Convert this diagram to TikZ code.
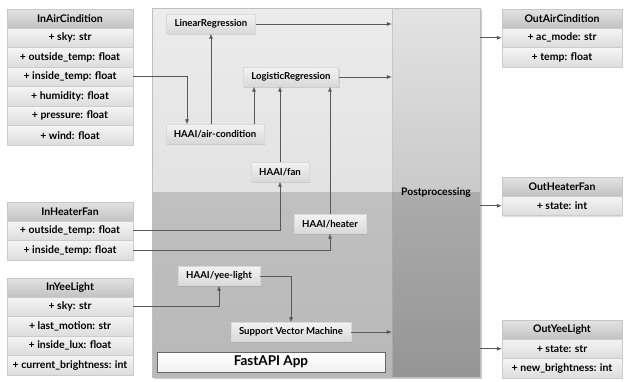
\documentclass[tikz,border=0pt]{standalone}
\usepackage{fontspec}
\setmainfont{Lato}
\usetikzlibrary{arrows.meta,shadows}

\begin{document}
\begin{tikzpicture}[x=1pt,y=-1pt,
    font=\fontsize{10.5}{12}\selectfont\bfseries,
    every node/.append style={inner sep=0pt},
    shade/.style={drop shadow={shadow xshift=1pt,shadow yshift=-1pt,opacity=0.25}},
    hdr/.style={shade,minimum height=19pt,draw=gray!45,line width=0.3pt,
        top color=gray!22,bottom color=gray!48},
    row/.style={shade,minimum height=19.5pt,draw=gray!40,line width=0.3pt,
        top color=gray!8,bottom color=gray!27},
    meth/.style={shade,minimum height=19pt,inner xsep=8pt,draw=gray!30,line width=0.3pt,
        top color=gray!10,bottom color=gray!30,font=\fontsize{9.6}{11}\selectfont\bfseries},
    arr/.style={draw=black!65,line width=0.7pt,-{Latex[length=5pt,width=4pt]}}]
    \useasboundingbox (0,0) rectangle (625,381);

    % FastAPI container and postprocessing column
    \fill[black,opacity=0.2] (154,10) rectangle (482,379);
    \shade[top color=gray!15,bottom color=gray!30] (152,8) rectangle (392,377);
    \node[minimum width=88pt,minimum height=369pt,draw=gray!45,line width=0.3pt,
        top color=gray!22,bottom color=gray!62,font=\fontsize{10.4}{12}\selectfont\bfseries]
        (post) at (436,192.5) {};
    \fill[black,opacity=0.15] (152,192) rectangle (480,377);
    \draw[gray!50,line width=0.4pt] (152,8) rectangle (480,377);
    \node[font=\fontsize{10.4}{12}\selectfont\bfseries] at (post) {Postprocessing};
    \node[minimum width=228pt,minimum height=20pt,draw=black!60,line width=0.6pt,
        top color=white,bottom color=gray!12,font=\fontsize{13.5}{15}\selectfont\bfseries]
        (app) at (271,362) {FastAPI App};

    % input classes
    \node[hdr,minimum width=126pt] (inair) at (70,18.5) {InAirCindition};
    \foreach \i/\t in {1/{+ sky: str},2/{+ outside\_temp: float},3/{+ inside\_temp: float},
        4/{+ humidity: float},5/{+ pressure: float},6/{+ wind: float}}
        \node[row,minimum width=126pt] (inair-\i) at (70,{28+19.5*(\i-0.5)}) {\t};

    \node[hdr,minimum width=126pt] (inheat) at (70,211.5) {InHeaterFan};
    \foreach \i/\t in {1/{+ outside\_temp: float},2/{+ inside\_temp: float}}
        \node[row,minimum width=126pt] (inheat-\i) at (70,{221+19.5*(\i-0.5)}) {\t};

    \node[hdr,minimum width=126pt] (inyee) at (70,287.5) {InYeeLight};
    \foreach \i/\t in {1/{+ sky: str},2/{+ last\_motion: str},3/{+ inside\_lux: float},
        4/{+ current\_brightness: int}}
        \node[row,minimum width=126pt] (inyee-\i) at (70,{297+19.5*(\i-0.5)}) {\t};

    % output classes
    \node[hdr,minimum width=120pt] (outac) at (562,18.5) {OutAirCindition};
    \foreach \i/\t in {1/{+ ac\_mode: str},2/{+ temp: float}}
        \node[row,minimum width=120pt] (outac-\i) at (562,{28+19.5*(\i-0.5)}) {\t};

    \node[hdr,minimum width=120pt] (outheat) at (562,186.5) {OutHeaterFan};
    \node[row,minimum width=120pt] (outheat-1) at (562,205.75) {+ state: int};

    \node[hdr,minimum width=120pt] (outyee) at (562,329.5) {OutYeeLight};
    \foreach \i/\t in {1/{+ state: str},2/{+ new\_brightness: int}}
        \node[row,minimum width=120pt] (outyee-\i) at (562,{339+19.5*(\i-0.5)}) {\t};

    % endpoints and models
    \node[meth] (linreg) at (211,24) {LinearRegression};
    \node[meth] (logreg) at (291,77) {LogisticRegression};
    \node[meth] (aircond) at (215,134) {HAAI/air-condition};
    \node[meth] (fan) at (280,172) {HAAI/fan};
    \node[meth] (heater) at (330,224) {HAAI/heater};
    \node[meth] (yee) at (219,276) {HAAI/yee-light};
    \node[meth] (svm) at (291,332) {Support Vector Machine};

    % connectors
    \draw[arr] (inair-3.east) -| ([xshift=-28pt]aircond.north);
    \draw[arr] (aircond.north -| linreg.south) -- (linreg.south);
    \draw[arr] ([xshift=39pt]aircond.north) -- ([xshift=39pt]aircond.north |- logreg.south);
    \draw[arr] (fan.north) -- (fan.north |- logreg.south);
    \draw[arr] (heater.north) -- (heater.north |- logreg.south);
    \draw[arr] (inheat-1.east) -| (fan.south);
    \draw[arr] (inheat-2.east) -| (heater.south);
    \draw[arr] (inyee-1.east) -| (yee.south);
    \draw[arr] (yee.east) -| (svm.north);
    \draw[arr] (linreg.east) -- (linreg.east -| post.west);
    \draw[arr] (logreg.east) -- (logreg.east -| post.west);
    \draw[arr] (svm.east) -- (svm.east -| post.west);
    \draw[arr] (post.east |- outac-1.west) -- (outac-1.west);
    \draw[arr] (post.east |- outheat-1.west) -- (outheat-1.west);
    \draw[arr] (post.east |- outyee-1.west) -- (outyee-1.west);
\end{tikzpicture}
\end{document}
